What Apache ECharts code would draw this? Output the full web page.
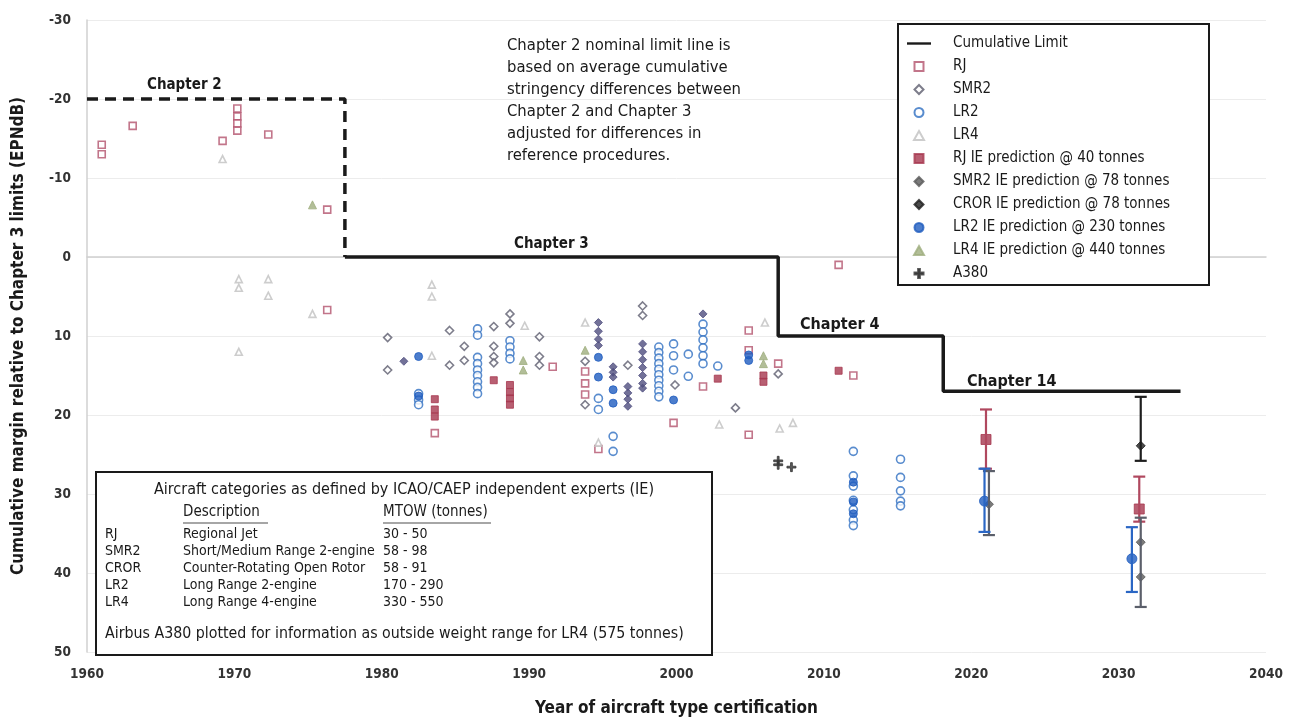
<!DOCTYPE html>
<html><head><meta charset="utf-8">
<script src="https://cdn.jsdelivr.net/npm/echarts@6/dist/echarts.min.js"></script>
<style>html,body{margin:0;padding:0;background:#fff}#c{width:1304px;height:722px}</style>
</head><body><div id="c"></div>
<script>
// ---- data (year, cumulative margin EPNdB) ----
const xTicks = [1960,1970,1980,1990,2000,2010,2020,2030,2040];
const yTicks = [-30,-20,-10,0,10,20,30,40,50];
const limitChapter2 = [[1960,-20],[1977.5,-20],[1977.5,0]];
const limitCumulative = [[1977.5,0],[2006.9,0],[2006.9,10],[2018.1,10],[2018.1,17],[2034.2,17]];
const rjOpen = [[1961.0,-14.2],[1961.0,-13.0],[1963.1,-16.6],[1969.2,-14.7],[1970.2,-18.8],[1970.2,-17.8],[1970.2,-16.9],[1970.2,-16.0],[1972.3,-15.5],[1976.3,-6.0],[1976.3,6.7],[1983.6,22.3],[1991.6,13.9],[1993.8,14.5],[1993.8,16.0],[1993.8,17.4],[1994.7,24.3],[1999.8,21.0],[2001.8,16.4],[2004.9,9.3],[2004.9,11.8],[2004.9,22.5],[2006.9,13.5],[2011.0,1.0],[2012.0,15.0]];
const rjFilled = [[1983.6,18.0],[1983.6,19.3],[1983.6,20.2],[1987.6,15.6],[1988.7,16.2],[1988.7,17.1],[1988.7,17.9],[1988.7,18.7],[2002.8,15.4],[2005.9,15.0],[2005.9,15.8],[2011.0,14.4]];
const smr2Open = [[1980.4,10.2],[1980.4,14.3],[1984.6,9.3],[1984.6,13.7],[1985.6,11.3],[1985.6,13.1],[1987.6,8.8],[1987.6,11.3],[1987.6,12.6],[1987.6,13.4],[1988.7,7.2],[1988.7,8.4],[1990.7,10.1],[1990.7,12.6],[1990.7,13.7],[1993.8,13.2],[1993.8,18.7],[1996.7,13.7],[1997.7,6.2],[1997.7,7.4],[1999.9,16.2],[2004.0,19.1],[2006.9,14.8]];
const smr2Filled = [[1981.5,13.2],[1994.7,8.3],[1994.7,9.4],[1994.7,10.4],[1994.7,11.2],[1995.7,13.9],[1995.7,14.6],[1995.7,15.2],[1996.7,16.4],[1996.7,17.2],[1996.7,18.0],[1996.7,18.9],[1997.7,11.0],[1997.7,12.0],[1997.7,13.0],[1997.7,14.0],[1997.7,15.0],[1997.7,16.0],[1997.7,16.6],[2001.8,7.2]];
const lr2Open = [[1982.5,17.3],[1982.5,18.1],[1982.5,18.7],[1986.5,9.1],[1986.5,9.9],[1986.5,12.7],[1986.5,13.5],[1986.5,14.3],[1986.5,15.0],[1986.5,15.8],[1986.5,16.5],[1986.5,17.3],[1988.7,10.6],[1988.7,11.4],[1988.7,12.2],[1988.7,12.9],[1994.7,17.9],[1994.7,19.3],[1995.7,22.7],[1995.7,24.6],[1998.8,11.4],[1998.8,12.1],[1998.8,12.8],[1998.8,13.5],[1998.8,14.2],[1998.8,14.9],[1998.8,15.6],[1998.8,16.3],[1998.8,17.0],[1998.8,17.7],[1999.8,11.0],[1999.8,12.5],[1999.8,14.3],[2000.8,12.3],[2000.8,15.1],[2001.8,8.5],[2001.8,9.5],[2001.8,10.5],[2001.8,11.5],[2001.8,12.5],[2001.8,13.5],[2002.8,13.8],[2012.0,24.6],[2012.0,27.7],[2012.0,29.0],[2012.0,30.8],[2012.0,32.0],[2012.0,33.3],[2012.0,34.0],[2015.2,25.6],[2015.2,27.9],[2015.2,29.6],[2015.2,30.9],[2015.2,31.5]];
const lr2Filled = [[1982.5,12.6],[1982.5,17.6],[1994.7,12.7],[1994.7,15.2],[1995.7,16.8],[1995.7,18.5],[1999.8,18.1],[2004.9,12.4],[2004.9,13.1],[2012.0,28.5],[2012.0,31.0],[2012.0,32.5]];
const lr4Open = [[1969.2,-12.4],[1970.3,2.8],[1970.3,3.9],[1970.3,12.0],[1972.3,2.8],[1972.3,4.9],[1975.3,7.2],[1983.4,3.5],[1983.4,5.0],[1983.4,12.5],[1989.7,8.7],[1993.8,8.3],[1994.7,23.5],[2002.9,21.2],[2006.0,8.3],[2007.0,21.7],[2007.9,21.0]];
const lr4Filled = [[1975.3,-6.6],[1989.6,13.1],[1989.6,14.3],[1993.8,11.8],[2005.9,12.5],[2005.9,13.5]];
const a380 = [[2006.9,25.8],[2006.9,26.3],[2007.8,26.6]];
const rjIE = [[2021.0,23.1],[2031.4,31.9]];
const rjIEbars = [[2021.0,19.3,26.8],[2031.4,27.8,33.5]];
const smr2IE = [[2021.2,31.3],[2031.5,36.1],[2031.5,40.5]];
const smr2IEbars = [[2021.2,27.1,35.2],[2031.5,33.0,44.3]];
const crorIE = [[2031.5,23.9]];
const crorIEbars = [[2031.5,17.7,25.8]];
const lr2IE = [[2020.9,30.9],[2030.9,38.2]];
const lr2IEbars = [[2020.9,26.8,34.8],[2030.9,34.2,42.4]];
const lr4IE = [];

const FONT = "'DejaVu Sans Condensed','Liberation Sans',sans-serif";
const C = {rj:'#b3536d', rjF:'#a6374f', smr2:'#5c5c6e', smr2F:'#4f4d7e', lr2:'#2f6fc2', lr2F:'#1f5cbf', lr4:'#c0c0c0', lr4F:'#9fae7e', cror:'#1e1e1e', a380:'#333'};
const P = {
  rect:'path://M0,0H10V10H0Z',
  diamond:'path://M5,0L10,5L5,10L0,5Z',
  circle:'path://M5,0A5,5,0,1,1,4.99,0Z',
  triangle:'path://M5,0L10,9L0,9Z',
  plus:'path://M4,0H6V4H10V6H6V10H4V6H0V4H4Z',
  line:'path://M0,0H40V4H0Z'
};

function openSeries(name, data, sym, col, size){
  return {name, type:'scatter', data, symbol:sym, symbolSize:size||7,
    itemStyle:{color:'#fff', borderColor:col, borderWidth:1.6}, z:3};
}
function filledSeries(name, data, sym, col, size){
  return {name, type:'scatter', data, symbol:sym, symbolSize:size||8,
    itemStyle:{color:col, borderColor:col, borderWidth:1}, z:4};
}
function barSeries(name, data, col){
  return {name, type:'custom', data, encode:{x:0, y:[1,2]}, z:5,
    renderItem:function(params, api){
      const a = api.coord([api.value(0), api.value(1)]);
      const b = api.coord([api.value(0), api.value(2)]);
      const w = 6, st = {stroke:col, lineWidth:2.2};
      return {type:'group', children:[
        {type:'line', shape:{x1:a[0],y1:a[1],x2:b[0],y2:b[1]}, style:st},
        {type:'line', shape:{x1:a[0]-w,y1:a[1],x2:a[0]+w,y2:a[1]}, style:st},
        {type:'line', shape:{x1:b[0]-w,y1:b[1],x2:b[0]+w,y2:b[1]}, style:st}
      ]};
    }};
}

const chart = echarts.init(document.getElementById('c'));
const txt = (x,y,s,o) => Object.assign({type:'text', x, y, z:50, style:Object.assign({text:s, font:'14px '+FONT, fill:'#1a1a1a', textVerticalAlign:'middle'}, o||{})});
const tblRows = [['RJ','Regional Jet','30 - 50'],['SMR2','Short/Medium Range 2-engine','58 - 98'],['CROR','Counter-Rotating Open Rotor','58 - 91'],['LR2','Long Range 2-engine','170 - 290'],['LR4','Long Range 4-engine','330 - 550']];
const graphics = [
  {type:'rect', z:40, shape:{x:898,y:24,width:311,height:261}, style:{fill:'#fff', stroke:'#1a1a1a', lineWidth:2}},
  {type:'rect', z:40, shape:{x:96,y:472,width:616,height:183}, style:{fill:'#fff', stroke:'#1a1a1a', lineWidth:2}},
  txt(404,490,'Aircraft categories as defined by ICAO/CAEP independent experts (IE)',{textAlign:'center', font:'16px '+FONT}),
  txt(183,512,'Description',{font:'15px '+FONT}), txt(383,512,'MTOW (tonnes)',{font:'15px '+FONT}),
  {type:'line', z:50, shape:{x1:183,y1:523,x2:268,y2:523}, style:{stroke:'#888', lineWidth:1.5}},
  {type:'line', z:50, shape:{x1:383,y1:523,x2:491,y2:523}, style:{stroke:'#888', lineWidth:1.5}},
  txt(105,634,'Airbus A380 plotted for information as outside weight range for LR4 (575 tonnes)',{font:'15.8px '+FONT}),
  txt(147,85,'Chapter 2',{font:'bold 15px '+FONT}),
  txt(514,244,'Chapter 3',{font:'bold 15px '+FONT}),
  txt(800,325,'Chapter 4',{font:'bold 16px '+FONT}),
  txt(967,382,'Chapter 14',{font:'bold 16px '+FONT})
];
tblRows.forEach((r,i)=>{ const y=534+i*17; graphics.push(txt(105,y,r[0],{font:'14px '+FONT}), txt(183,y,r[1],{font:'14px '+FONT}), txt(383,y,r[2],{font:'14px '+FONT})); });
['Chapter 2 nominal limit line is','based on average cumulative','stringency differences between','Chapter 2 and Chapter 3','adjusted for differences in','reference procedures.'].forEach((s,i)=>graphics.push(txt(507,46+i*22,s,{font:'16.5px '+FONT})));

const legendNames = [
  {name:'Cumulative Limit', icon:P.line},
  {name:'RJ', icon:P.rect}, {name:'SMR2', icon:P.diamond}, {name:'LR2', icon:P.circle}, {name:'LR4', icon:P.triangle},
  {name:'RJ IE prediction @ 40 tonnes', icon:P.rect},
  {name:'SMR2 IE prediction @ 78 tonnes', icon:P.diamond},
  {name:'CROR IE prediction @ 78 tonnes', icon:P.diamond},
  {name:'LR2 IE prediction @ 230 tonnes', icon:P.circle},
  {name:'LR4 IE prediction @ 440 tonnes', icon:P.triangle},
  {name:'A380', icon:P.plus}
];

chart.setOption({
  animation:false,
  backgroundColor:'#fff',
  textStyle:{fontFamily:FONT},
  grid:{left:87, right:38, top:20, bottom:64},
  legend:{data:legendNames, orient:'vertical', left:902, top:31, itemWidth:24, itemHeight:9, itemGap:8, z:60,
    symbolKeepAspect:true,
    textStyle:{fontSize:15, color:'#1a1a1a', lineHeight:15, fontFamily:FONT, padding:[0,0,0,17]}},
  xAxis:{type:'value', min:1960, max:2040, interval:10,
    name:'Year of aircraft type certification', nameLocation:'middle', nameGap:48,
    nameTextStyle:{fontSize:17, fontWeight:'bold', color:'#1a1a1a', fontFamily:FONT},
    axisLine:{show:true, lineStyle:{color:'#d0d0d0', width:1.5}}, axisTick:{show:false},
    axisLabel:{fontSize:13.5, fontWeight:'bold', color:'#333', margin:15, formatter:v=>String(v)}, splitLine:{show:false}},
  yAxis:{type:'value', inverse:true, min:-30, max:50, interval:10,
    name:'Cumulative margin relative to Chapter 3 limits (EPNdB)', nameLocation:'middle', nameGap:60,
    nameTextStyle:{fontSize:17, fontWeight:'bold', color:'#1a1a1a', fontFamily:FONT},
    axisLine:{show:true, lineStyle:{color:'#d0d0d0', width:1.5}}, axisTick:{show:false},
    axisLabel:{fontSize:13.5, fontWeight:'bold', color:'#333', margin:16, formatter:v=>String(v)},
    splitLine:{show:true, lineStyle:{color:'#ececec', width:1}}},
  graphic:graphics,
  series:[
    {name:'Cumulative Limit', type:'line', data:limitCumulative, symbol:'none', lineStyle:{color:'#1a1a1a', width:3.5}, itemStyle:{color:'#1a1a1a'}, z:6},
    {name:'Chapter 2 limit', type:'line', data:limitChapter2, symbol:'none', lineStyle:{color:'#1a1a1a', width:3.5, type:[11,7]}, z:6},
    openSeries('RJ', rjOpen, 'rect', C.rj, 7),
    openSeries('SMR2', smr2Open, 'diamond', C.smr2, 8),
    openSeries('LR2', lr2Open, 'circle', C.lr2, 8),
    openSeries('LR4', lr4Open, 'triangle', C.lr4, 7),
    filledSeries('RJ (filled)', rjFilled, 'rect', C.rjF, 7),
    filledSeries('SMR2 (filled)', smr2Filled, 'diamond', C.smr2F, 8),
    filledSeries('LR2 (filled)', lr2Filled, 'circle', C.lr2F, 8),
    filledSeries('LR4 (filled)', lr4Filled, 'triangle', C.lr4F, 8),
    barSeries('RJ IE bars', rjIEbars, '#b0485f'),
    barSeries('SMR2 IE bars', smr2IEbars, '#5b5f6a'),
    barSeries('LR2 IE bars', lr2IEbars, '#2a66c4'),
    barSeries('CROR IE bars', crorIEbars, '#1e1e1e'),
    filledSeries('RJ IE prediction @ 40 tonnes', rjIE, 'rect', C.rjF, 10),
    filledSeries('SMR2 IE prediction @ 78 tonnes', smr2IE, 'diamond', '#5a5a5a', 9),
    filledSeries('CROR IE prediction @ 78 tonnes', crorIE, 'diamond', C.cror, 9),
    filledSeries('LR2 IE prediction @ 230 tonnes', lr2IE, 'circle', C.lr2F, 10),
    filledSeries('LR4 IE prediction @ 440 tonnes', lr4IE, 'triangle', C.lr4F, 9),
    filledSeries('A380', a380, P.plus, C.a380, 9)
  ]
});
</script></body></html>
